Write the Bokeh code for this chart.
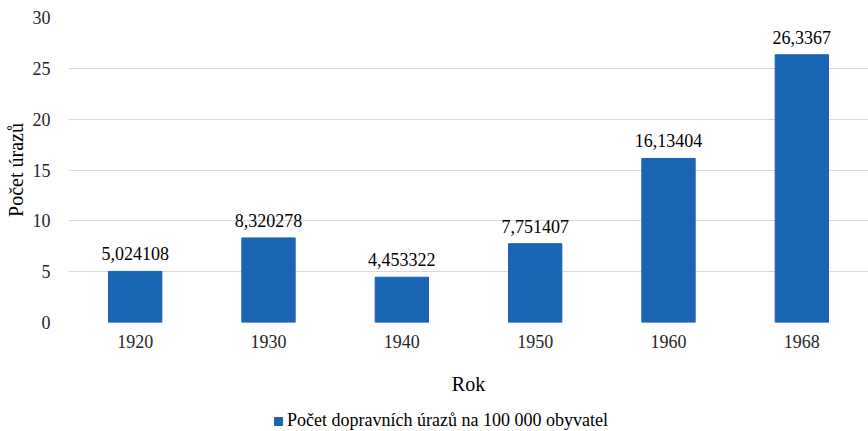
from bokeh.plotting import figure
from bokeh.layouts import column
from bokeh.models import ColumnDataSource, LabelSet, Legend, LegendItem, FixedTicker, Range1d
from bokeh.embed import file_html
from bokeh.resources import INLINE

years = ["1920", "1930", "1940", "1950", "1960", "1968"]
values = [5.024108, 8.320278, 4.453322, 7.751407, 16.13404, 26.3367]
labels = ["5,024108", "8,320278", "4,453322", "7,751407", "16,13404", "26,3367"]
y_ticks = [0, 5, 10, 15, 20, 25, 30]
series_name = "Počet dopravních úrazů na 100 000 obyvatel"

FONT = "Liberation Serif"
BAR = "#1a64b4"

src = ColumnDataSource(dict(x=years, top=values, lab=labels))

p = figure(x_range=years, y_range=Range1d(0, 30), frame_width=800, frame_height=305,
           output_backend="svg", toolbar_location=None,
           min_border_left=68, min_border_right=0, min_border_top=17, min_border_bottom=86)
p.outline_line_color = None
r = p.vbar(x="x", top="top", width=0.4, source=src, color=BAR, line_color=BAR)

ls = LabelSet(x="x", y="top", text="lab", source=src, text_align="center",
              text_baseline="bottom", y_offset=11, text_font=FONT,
              text_font_size="18px", text_color="#000000")
p.add_layout(ls)

p.yaxis.ticker = FixedTicker(ticks=y_ticks)
for ax in (p.xaxis, p.yaxis):
    ax.axis_line_color = None
    ax.major_tick_line_color = None
    ax.minor_tick_line_color = None
    ax.major_label_text_font = FONT
    ax.major_label_text_font_size = "18px"
    ax.major_label_text_color = "#262626"
    ax.axis_label_text_font = FONT
    ax.axis_label_text_font_size = "20px"
    ax.axis_label_text_font_style = "normal"
    ax.axis_label_text_color = "#000000"
p.yaxis.axis_label = "Počet úrazů"
p.xaxis.axis_label = "Rok"
p.yaxis.major_label_standoff = 12
p.xaxis.major_label_standoff = 6
p.xaxis.axis_label_standoff = 22
p.yaxis.axis_label_standoff = 3

p.xgrid.grid_line_color = None
p.ygrid.grid_line_color = "#d9d9d9"
p.ygrid.grid_line_width = 1

# legend strip below the chart
p2 = figure(width=868, height=23, x_range=Range1d(0, 1), y_range=Range1d(0, 1),
            output_backend="svg", toolbar_location=None,
            min_border_left=0, min_border_right=0, min_border_top=0, min_border_bottom=0)
p2.axis.visible = False
p2.grid.visible = False
p2.outline_line_color = None
r2 = p2.vbar(x=[5], top=[1], width=0.4, color=BAR, line_color=BAR)
legend = Legend(items=[LegendItem(label=series_name, renderers=[r2])],
                location=(205, 0), orientation="horizontal",
                border_line_color=None, background_fill_alpha=0,
                label_text_font=FONT, label_text_font_size="18px",
                label_text_color="#000000", glyph_width=10, glyph_height=10,
                label_standoff=4, padding=0, margin=0)
p2.add_layout(legend, "center")

layout = column(p, p2, spacing=0)
open("out.html", "w").write(file_html(layout, INLINE))
